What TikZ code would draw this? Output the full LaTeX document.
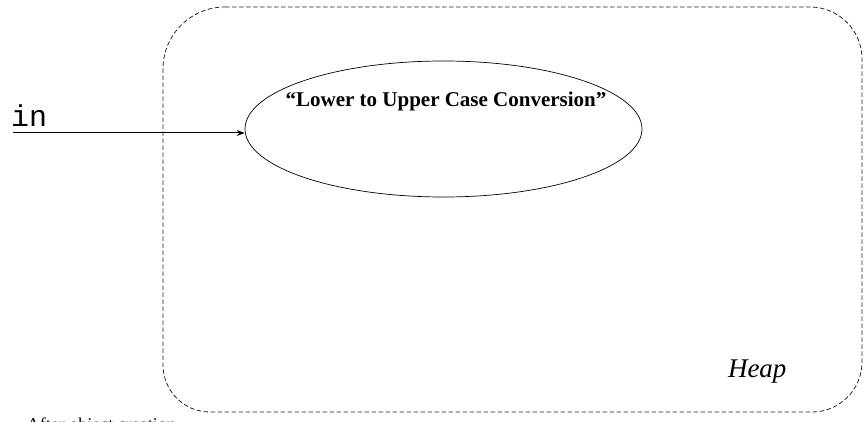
\documentclass[tikz,border=0pt]{standalone}
\usepackage{fontspec}
\setmainfont{Liberation Serif}
\newfontfamily\courierfont{Liberation Mono}
\usetikzlibrary{shapes.geometric,arrows.meta}
\tikzset{
  heapbox/.style={draw=black!85, line width=0.8pt, dash pattern=on 4.5pt off 2.5pt},
  objellipse/.style={draw, ellipse, line width=0.7pt, minimum width=397pt, minimum height=136pt, inner sep=0pt},
  conn/.style={line width=1pt, -{Stealth[length=8pt,width=6pt]}},
  plain/.style={inner sep=0pt, outer sep=0pt}
}
\begin{document}
\begin{tikzpicture}[x=1pt,y=1pt]
\useasboundingbox (0,0) rectangle (864,421);
% Heap boundary
\draw[heapbox] (225,414) -- (810,414) arc[start angle=90,end angle=0,radius=52]
  -- (862,59) arc[start angle=0,end angle=-90,radius=50]
  -- (210,9) arc[start angle=270,end angle=180,radius=47]
  -- (163,352) arc[start angle=180,end angle=90,radius=62] -- cycle;
% object ellipse
\node[objellipse] (obj) at (443.5,292) {};
\node[plain, anchor=base, font=\fontsize{21}{24}\selectfont\bfseries] (objlabel) at (446,314) {“Lower to Upper Case Conversion”};
% in reference
\node[plain, anchor=base west, font=\fontsize{30}{32}\courierfont] (in) at (11,294) {in};
\coordinate (instart) at (13,288);
\draw[conn] (instart) -- (instart -| obj.west);
% heap label
\node[plain, anchor=base west, font=\fontsize{27}{30}\selectfont\itshape] (heap) at (728,44) {Heap};
% caption (cut off at the bottom, as in the reference)
\node[plain, anchor=base west, font=\fontsize{18}{20}\selectfont] (caption) at (27,-9) {After object creation};
\end{tikzpicture}
\end{document}
